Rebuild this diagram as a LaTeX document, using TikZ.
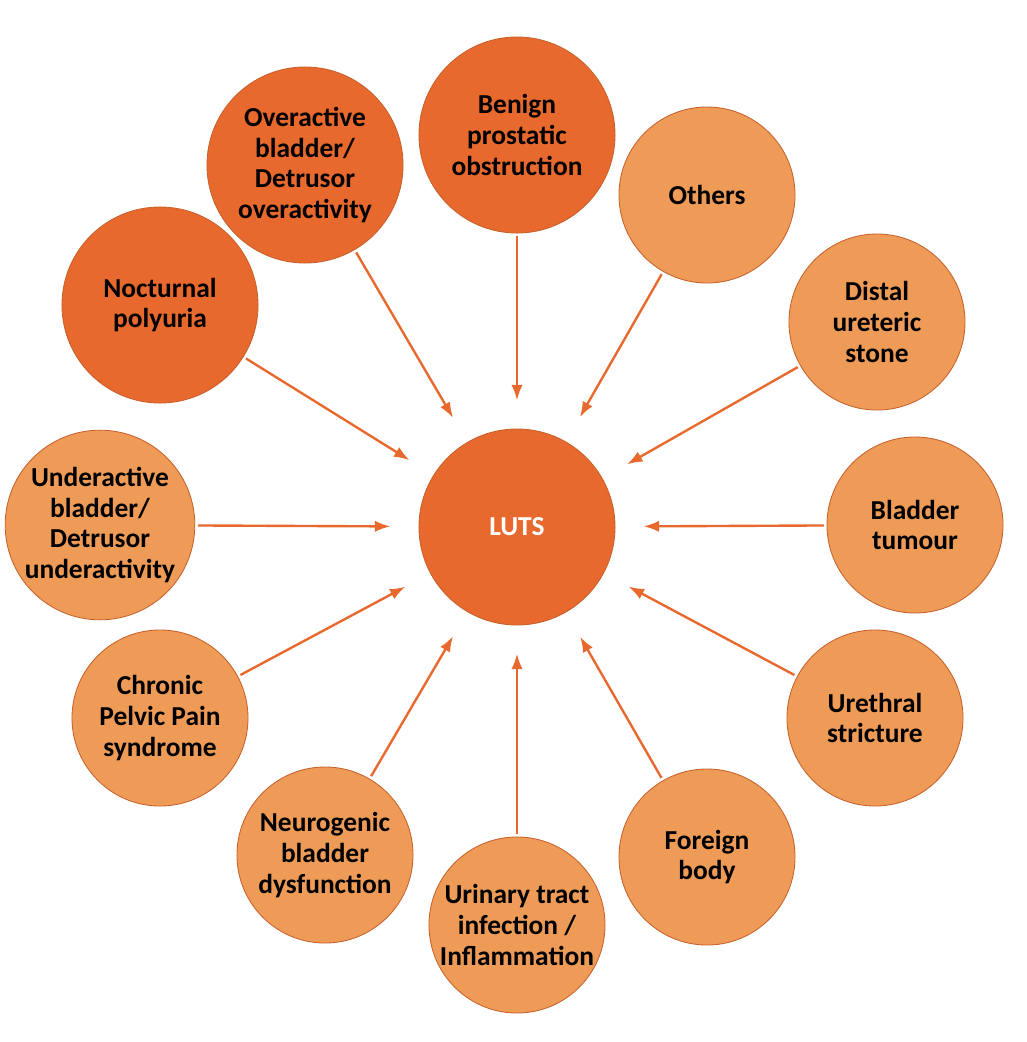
\documentclass[tikz,border=0pt]{standalone}
\usepackage{fontspec}
\setmainfont{Carlito}
\usetikzlibrary{arrows.meta}
\definecolor{darkor}{HTML}{E8692D}
\definecolor{lightor}{HTML}{EE9B58}
\definecolor{rimor}{HTML}{C7602A}
\tikzset{
  cause/.style={circle, draw=rimor, line width=0.6pt, fill=lightor, minimum size=#1, inner sep=0pt,
    align=center, font=\fontsize{19.5}{22}\selectfont\bfseries},
  cause/.default=4.4cm,
  main/.style={cause=4.9cm, fill=darkor},
  link/.style={-{Latex[length=11pt,width=8pt]}, draw=darkor, line width=1.7pt, shorten <=2pt}
}
\begin{document}
\begin{tikzpicture}[x=0.025cm, y=-0.025cm]
\useasboundingbox (0,0) rectangle (1027,1042);

\node[main, text=white] (luts) at (517,527) {LUTS};

\node[main] (bpo) at (517,135) {Benign\\prostatic\\obstruction};
\node[main] (oab) at (305,165) {Overactive\\bladder/\\Detrusor\\overactivity};
\node[main] (np) at (160,305) {Nocturnal\\polyuria};
\node[cause] (oth) at (707,195) {Others};
\node[cause] (dus) at (877,322) {Distal\\ureteric\\stone};
\node[cause] (bt) at (915,525) {Bladder\\tumour};
\node[cause] (us) at (875,718) {Urethral\\stricture};
\node[cause] (fb) at (707,857) {Foreign\\body};
\node[cause] (uti) at (517,925) {Urinary tract\\infection /\\Inflammation};
\node[cause] (nbd) at (325,855) {Neurogenic\\bladder\\dysfunction};
\node[cause] (cpp) at (160,718) {Chronic\\Pelvic Pain\\syndrome};
\node[cause] (uab) at (100,525) {Underactive\\bladder/\\Detrusor\\underactivity};

\foreach \src in {bpo,oab,np,oth,dus,bt,us,fb,uti,nbd,cpp,uab}
  \draw[link, shorten >=20pt] (\src) -- (luts);

\end{tikzpicture}
\end{document}
